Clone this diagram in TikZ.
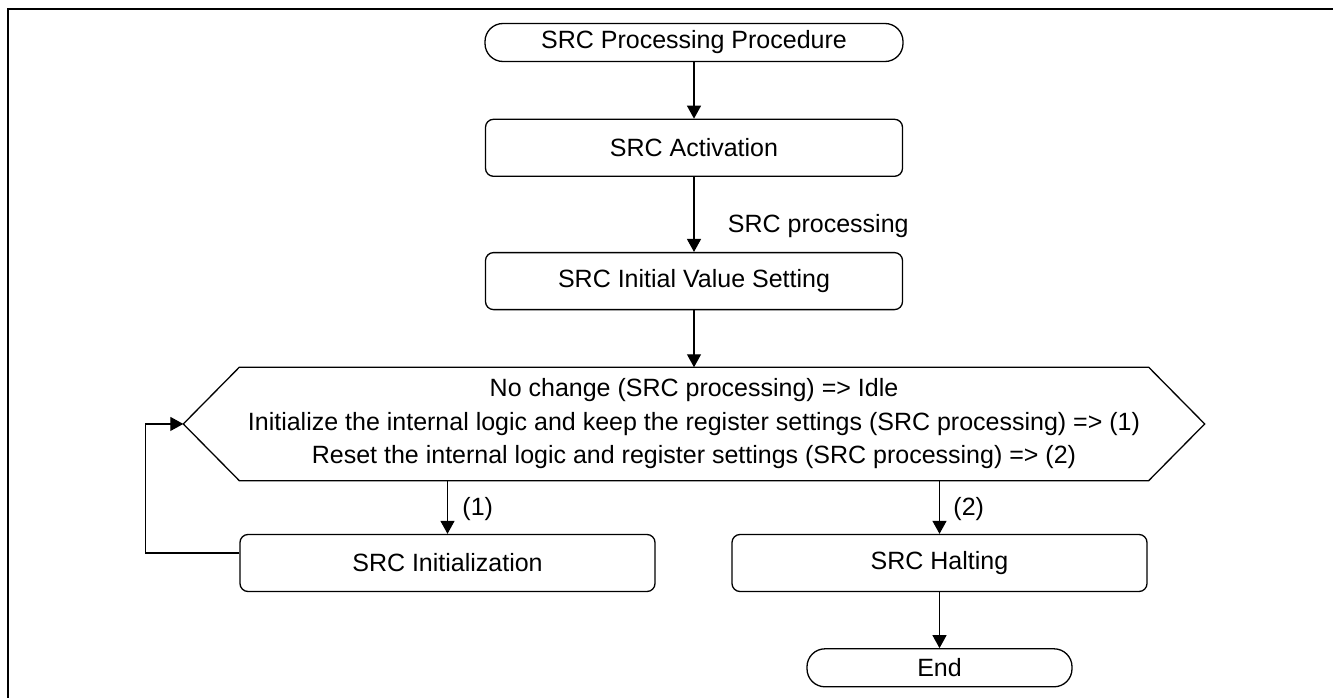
\documentclass[tikz,border=0pt]{standalone}
\usepackage{fontspec}
\setmainfont{Liberation Sans}
\usetikzlibrary{arrows.meta, positioning, calc}

\begin{document}
\begin{tikzpicture}[x=1pt,y=-1pt,font=\fontsize{25}{33.5}\selectfont,
  procbox/.style={draw,line width=1.3pt,rounded corners=8pt,minimum width=417pt,minimum height=57pt,inner sep=0pt},
  terminal/.style={draw,line width=1.3pt,rounded corners=18pt,minimum height=38pt,inner sep=0pt},
  arrow/.style={-{Triangle[length=13pt,width=14pt]},line width=1.3pt}]
  \useasboundingbox (0,0) rectangle (1333,698);
  \draw[line width=2.2pt] (8,710) -- (8,9) -- (1345,9);
  \node[terminal,minimum width=418pt] (start) at (694,42.5) {SRC Processing Procedure};
  \node[procbox,below=56.5pt of start] (act) {SRC Activation};
  \node[procbox,below=75pt of act] (setval) {SRC Initial Value Setting};
  \node[minimum width=909pt,minimum height=113pt,align=center,inner sep=0pt,below=57pt of setval] (dec)
    {No change (SRC processing) => Idle\\
     Initialize the internal logic and keep the register settings (SRC processing) => (1)\\
     Reset the internal logic and register settings (SRC processing) => (2)};
  \coordinate (declin) at ([xshift=-56pt]dec.west);
  \coordinate (decrin) at ([xshift=56pt]dec.east);
  \draw[line width=1.3pt] (dec.north west) -- (dec.north east) -- (decrin) -- (dec.south east)
    -- (dec.south west) -- (declin) -- cycle;
  \node[procbox,minimum width=415pt] (initz) at (447.5,563) {SRC Initialization};
  \node[procbox,minimum width=415pt] (halt) at (939.5,563) {SRC Halting};
  \node[terminal,minimum width=265pt,below=56pt of halt] (endt) {End};
  % connectors
  \draw[arrow] (start) -- (act);
  \draw[arrow] (act) -- node[pos=0.66,right=30pt] (proclbl) {SRC processing} (setval);
  \draw[arrow] (setval) -- (dec.north -| setval);
  \draw[arrow] (dec.south -| initz) -- node[pos=0.54,right=11pt] (onelbl) {(1)} (initz);
  \draw[arrow] (dec.south -| halt) -- node[pos=0.54,right=10pt] (twolbl) {(2)} (halt);
  \draw[arrow] (halt) -- (endt);
  \draw[arrow] ([yshift=10pt]initz.west) -- ++(-94,0) |- (declin);
\end{tikzpicture}
\end{document}
